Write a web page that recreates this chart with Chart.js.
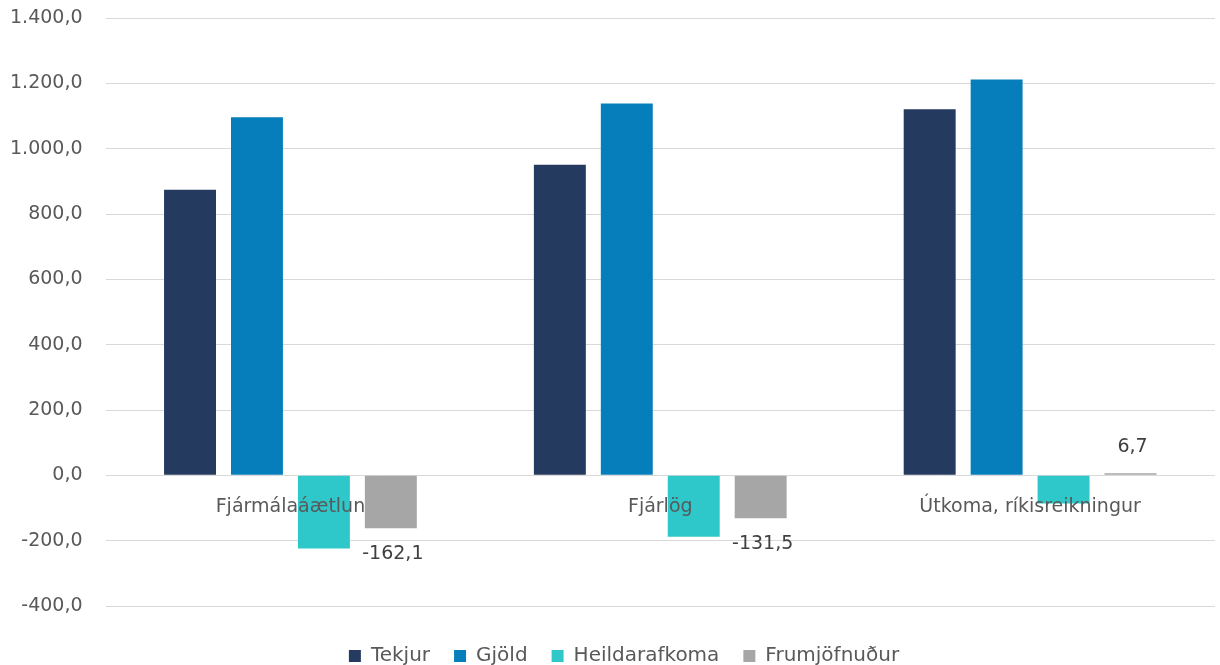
<!DOCTYPE html>
<html><head><meta charset="utf-8">
<script src="https://cdn.jsdelivr.net/npm/chart.js@4"></script>
<style>html,body{margin:0;padding:0;background:#fff}</style>
</head><body>
<canvas id="c" width="1220" height="665"></canvas>
<script>
const categories = ['Fjármálaáætlun', 'Fjárlög', 'Útkoma, ríkisreikningur'];
const seriesNames = ['Tekjur', 'Gjöld', 'Heildarafkoma', 'Frumjöfnuður'];
const tekjur = [874, 951, 1121];
const gjold = [1096, 1138, 1212];
const heildarafkoma = [-224, -188, -86];
const frumjofnudur = [-162.1, -131.5, 6.7];
const yMin = -400, yMax = 1400, yStep = 200;
const colors = ['#253a5f', '#067ebc', '#2ec8ca', '#a6a6a6'];

function fmt(v) {
  const parts = Math.abs(v).toFixed(1).split('.');
  const intPart = parts[0].replace(/\B(?=(\d{3})+(?!\d))/g, '.');
  return (v < 0 ? '-' : '') + intPart + ',' + parts[1];
}

const FONT = '"DejaVu Sans", sans-serif';

const labelPlugin = {
  id: 'labelPlugin',
  afterLayout(chart) {
    if (chart.legend) { chart.legend.left += 23; chart.legend.right += 23; }
  },
  afterDatasetsDraw(chart) {
    const { ctx, scales: { x, y } } = chart;
    ctx.save();
    ctx.font = '19px ' + FONT;
    ctx.textAlign = 'center';
    ctx.textBaseline = 'middle';
    const y0 = y.getPixelForValue(0);
    ctx.fillStyle = '#595959';
    categories.forEach((c, i) => ctx.fillText(c, x.getPixelForValue(i), y0 + 32));
    const meta = chart.getDatasetMeta(3);
    ctx.fillStyle = '#404040';
    meta.data.forEach((bar, i) => {
      const v = frumjofnudur[i];
      ctx.fillText(fmt(v), bar.x + 2, v < 0 ? bar.y + 26 : bar.y - 26);
    });
    ctx.restore();
  }
};

const seriesData = [tekjur, gjold, heildarafkoma, frumjofnudur];

new Chart(document.getElementById('c'), {
  type: 'bar',
  data: {
    labels: categories,
    datasets: seriesNames.map((n, i) => ({
      label: n,
      data: seriesData[i],
      backgroundColor: colors[i],
      borderWidth: 0,
      categoryPercentage: 0.724,
      barPercentage: 0.776
    }))
  },
  options: {
    responsive: false,
    animation: false,
    layout: { padding: { top: 0, left: -13, right: 5, bottom: -11 } },
    plugins: {
      legend: {
        position: 'bottom',
        labels: {
          boxWidth: 12, boxHeight: 12, padding: 24,
          color: '#595959',
          font: { family: FONT, size: 20 }
        }
      },
      tooltip: { enabled: false }
    },
    scales: {
      x: {
        ticks: { display: false },
        grid: { display: false },
        border: { display: false },
        afterFit: (s) => { s.height = 16; }
      },
      y: {
        min: yMin, max: yMax,
        ticks: {
          stepSize: yStep,
          padding: 23,
          color: '#595959',
          font: { family: FONT, size: 19 },
          callback: (v) => fmt(v)
        },
        grid: { color: '#d9d9d9', drawTicks: false, lineWidth: 1 },
        border: { display: false },
        afterFit: (s) => { s.paddingTop = 18; s.paddingBottom = 12; }
      }
    }
  },
  plugins: [labelPlugin]
});
</script>
</body></html>
